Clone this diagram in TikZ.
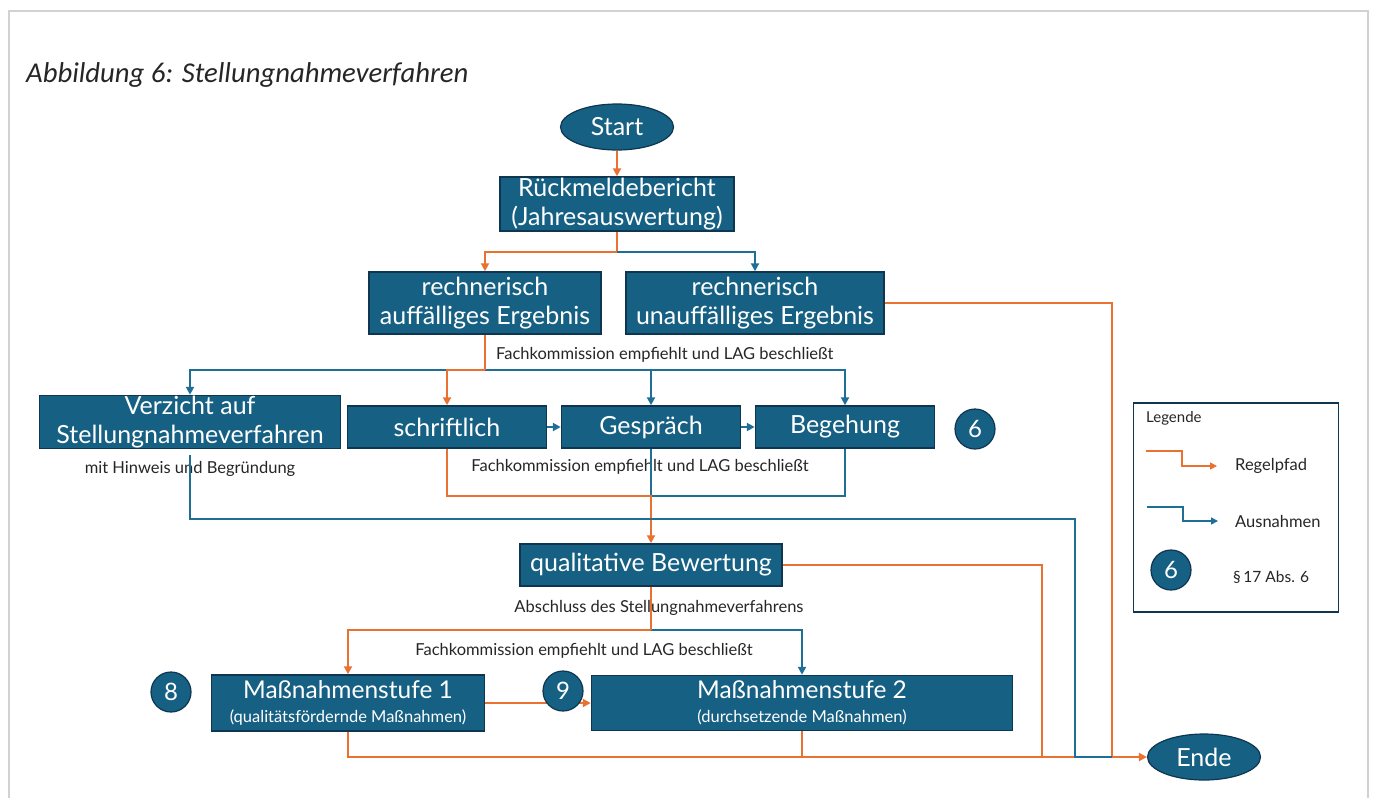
\documentclass[tikz,border=0pt]{standalone}
\usepackage{fontspec}
\setmainfont{Lato}
\newfontfamily\titlefont{Carlito}
\usetikzlibrary{shapes.geometric, arrows.meta, calc}

\definecolor{boxfill}{HTML}{166083}
\definecolor{boxrand}{HTML}{0E3650}
\definecolor{regelfarbe}{HTML}{E97132}
\definecolor{ausnfarbe}{HTML}{1F6E96}
\definecolor{textgrau}{HTML}{262626}

\tikzset{
	stepbox/.style={rectangle, draw=boxrand, line width=1.5pt, fill=boxfill, text=white, inner sep=0pt, align=center, font=\fontsize{25}{29}\selectfont},
	termnode/.style={ellipse, draw=boxrand, line width=1.2pt, fill=boxfill, text=white, inner sep=0pt, minimum width=113pt, minimum height=46pt, font=\fontsize{25}{29}\selectfont},
	numnode/.style={circle, draw=boxrand, line width=1.2pt, fill=boxfill, text=white, inner sep=0pt, minimum size=40pt, font=\fontsize{24}{28}\selectfont},
	lbl/.style={text=textgrau, inner sep=0pt, font=\fontsize{16.5}{19}\selectfont},
	regel/.style={draw=regelfarbe, line width=2pt},
	ausn/.style={draw=ausnfarbe, line width=2pt},
	pfeil/.style={-{Triangle[length=8pt,width=8pt]}},
}

\begin{document}
\begin{tikzpicture}[x=1pt, y=-1pt]
		\path[fill=white] (0,0) rectangle (1375,798);
		\useasboundingbox (0,0) rectangle (1375,798);
		\draw[gray!35, line width=1.5pt] (9,798) |- (1368,11) -- (1368,798);

		\node[anchor=west, text=textgrau, inner sep=0pt, font={\titlefont\itshape\fontsize{28.7}{32}\selectfont}] (titel) at (26,75) {Abbildung 6: Stellungnahmeverfahren};

		\node[termnode] (start) at (617,127) {Start};
		\node[stepbox, minimum width=234pt, minimum height=54pt] (rueck) at (617,204) {R\"uckmeldebericht\\(Jahresauswertung)};

		\node[stepbox, minimum width=232pt, minimum height=62pt] (auff) at (485,303) {rechnerisch\\auff\"alliges Ergebnis};
		\node[stepbox, minimum width=258pt, minimum height=62pt] (unauff) at (755,303) {rechnerisch\\unauff\"alliges Ergebnis};

		\node[stepbox, minimum width=301pt, minimum height=53pt] (verz) at (190,422) {Verzicht auf\\Stellungnahmeverfahren};
		\node[stepbox, minimum width=199pt, minimum height=42pt] (schr) at (447,427) {schriftlich};
		\node[stepbox, minimum width=179pt, minimum height=42pt] (gesp) at (651,427) {Gespr\"ach};
		\node[stepbox, minimum width=179pt, minimum height=42pt] (beg) at (845,427) {Begehung};

		\node[stepbox, minimum width=262pt, minimum height=42pt] (qual) at (651,565) {qualitative Bewertung};

		\node[stepbox, minimum width=273pt, minimum height=56pt, font=\fontsize{24.5}{27}\selectfont] (mst1) at (348,703) {Ma\ss nahmenstufe 1\\[-3pt]{\fontsize{16.5}{19}\selectfont (qualit\"atsf\"ordernde Ma\ss nahmen)}};
		\node[stepbox, minimum width=421pt, minimum height=55pt, font=\fontsize{24.5}{27}\selectfont] (mst2) at (802,703) {Ma\ss nahmenstufe 2\\[-3pt]{\fontsize{16.5}{19}\selectfont (durchsetzende Ma\ss nahmen)}};

		\node[termnode] (ende) at (1204,757) {Ende};

		\node[lbl, anchor=west] (lab1) at (496,355) {Fachkommission empfiehlt und LAG beschlie\ss t};
		\node[lbl] (lab2) at (190,469) {mit Hinweis und Begr\"undung};
		\node[lbl] (lab3) at (640,467) {Fachkommission empfiehlt und LAG beschlie\ss t};
		\node[lbl] (lab4) at (659,608) {Abschluss des Stellungnahmeverfahrens};
		\node[lbl] (lab5) at (584,651) {Fachkommission empfiehlt und LAG beschlie\ss t};

		\coordinate (r1) at (617,252);
		\coordinate (a1) at (485,370);
		\coordinate (q1) at (651,496);
		\coordinate (v1) at (1075,519);
		\coordinate (v2) at (1075,757);
		\coordinate (q2) at (651,630);
		\coordinate (e1) at (1112,757);
		\coordinate (e2) at (1042,757);
		\coordinate (e3) at (802,757);

		\draw[regel,pfeil] (start) -- (rueck);
		\draw[regel,pfeil] (rueck.south) -- (r1) -| (auff.north);
		\draw[ausn,pfeil] (r1) -| (unauff.north);
		\draw[regel] (unauff.east) -| (e1);

		\draw[ausn,pfeil] (a1) -| (verz.north);
		\draw[ausn,pfeil] (a1) -| (beg.north);
		\draw[ausn,pfeil] (a1) -| (gesp.north);
		\draw[regel] (auff.south) -- (a1);
		\draw[regel,pfeil] (a1) -| (schr.north);

		\draw[ausn,pfeil] (schr) -- (gesp);
		\draw[ausn,pfeil] (gesp) -- (beg);

		\draw[ausn] (gesp.south) -- (q1);
		\draw[ausn] (beg.south) |- (q1);
		\draw[regel,pfeil] (schr.south) |- (q1) -- (qual.north);

		\draw[regel] (qual.east) -| (e2);
		\draw[ausn,pfeil] (q2) -| (mst2.north);
		\draw[regel] (qual.south) -- (q2);
		\draw[regel,pfeil] (q2) -| (mst1.north);

		\draw[regel,pfeil] (mst1) -- (mst2);
		\draw[regel,pfeil] (mst1.south) |- (ende.west);
		\draw[regel] (mst2.south) -- (e3);
		\draw[ausn] ([yshift=-6pt]verz.south) |- (v1) -- (v2) -- (e1);

		\node[numnode] (n6) at (975,429) {6};
		\node[numnode] (n8) at (171,692) {8};
		\node[numnode] (n9) at (563,691) {9};

		\node[draw=boxrand, line width=1.5pt, minimum width=205pt, minimum height=209pt, inner sep=0pt] (leg) at (1236,507.5) {};
		\node[lbl, anchor=west, font=\fontsize{15}{17}\selectfont] (legt) at (1146,418) {Legende};
		\coordinate (l1) at (1146,451);
		\coordinate (l2) at (1217,466);
		\coordinate (l3) at (1147,507);
		\coordinate (l4) at (1218,521);
		\draw[regel,line width=1.5pt,-{Triangle[length=7pt,width=7pt]}] (l1) -- ++(36,0) |- (l2);
		\draw[ausn,line width=1.5pt,-{Triangle[length=7pt,width=7pt]}] (l3) -- ++(36,0) |- (l4);
		\node[lbl, anchor=west] (regt) at (1235,466) {Regelpfad};
		\node[lbl, anchor=west] (ausnt) at (1235,521) {Ausnahmen};
		\node[numnode] (l6) at (1171,570) {6};
		\node[lbl, anchor=west, font=\fontsize{15.5}{18}\selectfont] (part) at (1233,577) {\S\,17 Abs. 6};
	\end{tikzpicture}
\end{document}
